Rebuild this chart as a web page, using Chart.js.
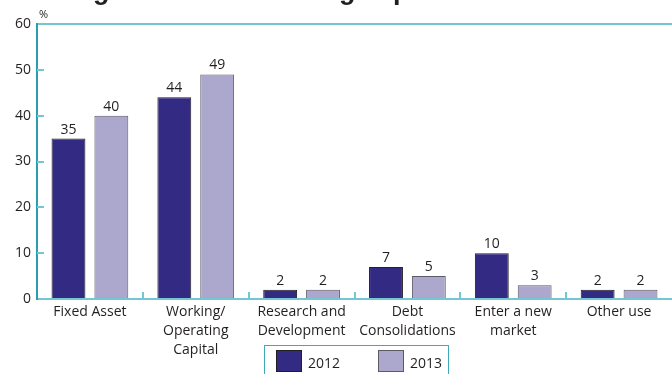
<!DOCTYPE html>
<html>
<head>
<meta charset="utf-8">
<script src="https://cdn.jsdelivr.net/npm/chart.js@4/dist/chart.umd.min.js"></script>
<style>
  html, body { margin: 0; padding: 0; background: #fff; overflow: hidden; }
  #wrap { position: relative; width: 672px; height: 374px; overflow: hidden; }
  #title { position: absolute; left: 3px; top: -25px; white-space: nowrap;
           font: bold 27px 'Liberation Sans', Arial, sans-serif; line-height: 30px; color: #231f20; }
  #legend { position: absolute; left: 264px; top: 345px; width: 185px; height: 40px;
            border: 1.5px solid #3fa9bb; box-sizing: border-box; }
  .item { position: absolute; top: 4px; font: 14px 'Open Sans', sans-serif; color: #231f20; }
  .item span.box { position: absolute; top: 0; left: 0; width: 26px; height: 22px; box-sizing: border-box; }
  .item span.lbl { position: absolute; left: 32px; top: 3px; }
</style>
</head>
<body>
<div id="wrap">
  <canvas id="chart" width="672" height="374"></canvas>
  <div id="title">Funding the use of working capital and other uses</div>
  <div id="legend"></div>
</div>
<script>
// données
const categories = ['Fixed Asset', ['Working/', 'Operating', 'Capital'], ['Research and', 'Development'],
    ['Debt', 'Consolidations'], ['Enter a new', 'market'], 'Other use'];
const seriesNames = ['2012', '2013'];
const values2012 = [35, 44, 2, 7, 10, 2];
const values2013 = [40, 49, 2, 5, 3, 2];
const yTicks = [0, 10, 20, 30, 40, 50, 60];

const fillColors = ['#332a84', '#aca7cd'];
const edgeColors = ['#231f20', '#5c5a66'];
const teal = '#2a9db0';
const lightTeal = '#74c6d3';

// ticks vers l'interieur, % et valeurs au dessus des barres
const axisDecor = {
    id: 'axisDecor',
    afterDatasetsDraw(chart) {
        const ctx = chart.ctx;
        const area = chart.chartArea;
        const y = chart.scales.y;
        const x = chart.scales.x;
        ctx.save();
        ctx.strokeStyle = lightTeal;
        ctx.lineWidth = 2;
        yTicks.forEach(v => {
            if (v === 0 || v === 60) return;
            const py = Math.round(y.getPixelForValue(v));
            ctx.beginPath();
            ctx.moveTo(area.left, py);
            ctx.lineTo(area.left + 7, py);
            ctx.stroke();
        });
        for (let i = 1; i < categories.length; i++) {
            const px = Math.round((x.getPixelForValue(i - 1) + x.getPixelForValue(i)) / 2);
            ctx.beginPath();
            ctx.moveTo(px, area.bottom);
            ctx.lineTo(px, area.bottom - 7);
            ctx.stroke();
        }
        ctx.fillStyle = '#231f20';
        ctx.font = '11px "Open Sans", sans-serif';
        ctx.textAlign = 'left';
        ctx.textBaseline = 'alphabetic';
        ctx.fillText('%', area.left + 2, area.top - 6);

        ctx.font = '14px "Open Sans", sans-serif';
        ctx.textAlign = 'center';
        chart.data.datasets.forEach((ds, di) => {
            chart.getDatasetMeta(di).data.forEach((bar, i) => {
                ctx.fillText(String(ds.data[i]), bar.x, bar.y - 5);
            });
        });
        ctx.restore();
    }
};

const ctx = document.getElementById('chart').getContext('2d');
const chart = new Chart(ctx, {
    type: 'bar',
    data: {
        labels: categories,
        datasets: [{
            label: seriesNames[0],
            data: values2012,
            backgroundColor: fillColors[0],
            borderColor: edgeColors[0],
            borderWidth: 1,
            categoryPercentage: 0.81,
            barPercentage: 0.79
        }, {
            label: seriesNames[1],
            data: values2013,
            backgroundColor: fillColors[1],
            borderColor: edgeColors[1],
            borderWidth: 1,
            categoryPercentage: 0.81,
            barPercentage: 0.79
        }]
    },
    options: {
        responsive: false,
        animation: false,
        layout: { padding: { top: 24, left: 0, right: 0, bottom: 0 } },
        plugins: { legend: { display: false }, tooltip: { enabled: false } },
        scales: {
            x: {
                afterFit: s => { s.height = 75; },
                grid: { display: true, drawOnChartArea: false, drawTicks: false, color: 'rgba(0,0,0,0)' },
                border: { color: lightTeal, width: 2 },
                ticks: {
                    autoSkip: false, maxRotation: 0, padding: 4, color: '#231f20',
                    font: { family: 'Open Sans', size: 14, lineHeight: 1.35 }
                }
            },
            y: {
                min: 0, max: 60,
                afterFit: s => { s.width = 37; },
                afterBuildTicks: s => { s.ticks = yTicks.map(v => ({ value: v })); },
                grid: {
                    drawTicks: false,
                    lineWidth: 2,
                    color: c => c.tick && c.tick.value === 60 ? lightTeal : 'rgba(0,0,0,0)'
                },
                border: { color: teal, width: 2 },
                ticks: { padding: 6, color: '#231f20', font: { family: 'Open Sans', size: 14 } }
            }
        }
    },
    plugins: [axisDecor]
});

// legende html
const legend = document.getElementById('legend');
seriesNames.forEach((name, i) => {
    let item = document.createElement('div');
    item.className = 'item';
    item.style.left = (11 + i * 102) + 'px';
    let box = document.createElement('span');
    box.className = 'box';
    box.style.background = fillColors[i];
    box.style.border = '1px solid ' + edgeColors[i];
    let lbl = document.createElement('span');
    lbl.className = 'lbl';
    lbl.innerText = name;
    item.appendChild(box);
    item.appendChild(lbl);
    legend.appendChild(item);
});
</script>
</body>
</html>
